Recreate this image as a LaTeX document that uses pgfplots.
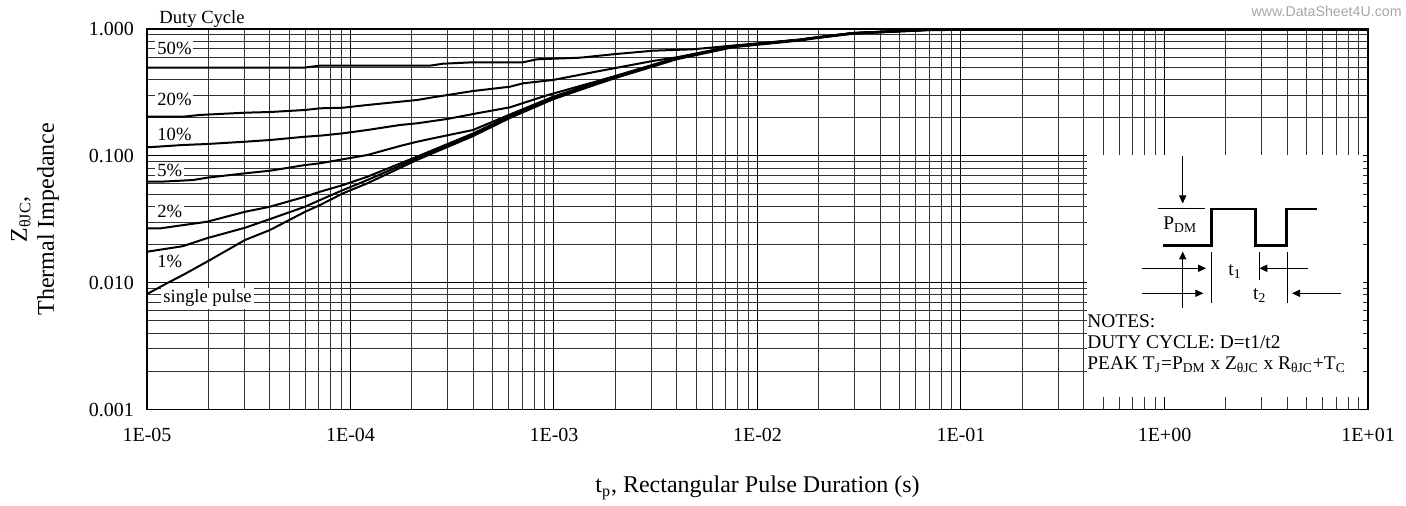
\documentclass[border=0pt]{standalone}
\usepackage{fontspec}
\setmainfont{Liberation Serif}
\newfontfamily\wmfont{Liberation Sans}
\usepackage{pgfplots}
\pgfplotsset{compat=1.18}
\usetikzlibrary{arrows.meta}
\pgfplotsset{curve/.style={black, solid, mark=none, line width=1pt, line join=round}}
\begin{document}
\begin{tikzpicture}
\begin{loglogaxis}[
  name=ax,
  scale only axis,
  width=610.5pt, height=190.25pt,
  xmin=1e-5, xmax=10, ymin=1e-3, ymax=1,
  xtick={1e-5,1e-4,1e-3,1e-2,1e-1,1,10},
  xticklabels={1E-05,1E-04,1E-03,1E-02,1E-01,1E+00,1E+01},
  ytick={1e-3,1e-2,1e-1,1},
  yticklabels={0.001,0.010,0.100,1.000},
  minor xtick={2e-5,3e-5,4e-5,5e-5,6e-5,7e-5,8e-5,9e-5,
    2e-4,3e-4,4e-4,5e-4,6e-4,7e-4,8e-4,9e-4,
    2e-3,3e-3,4e-3,5e-3,6e-3,7e-3,8e-3,9e-3,
    2e-2,3e-2,4e-2,5e-2,6e-2,7e-2,8e-2,9e-2,
    2e-1,3e-1,4e-1,5e-1,6e-1,7e-1,8e-1,9e-1,
    2,3,4,5,6,7,8,9},
  minor ytick={2e-3,3e-3,4e-3,5e-3,6e-3,7e-3,8e-3,9e-3,
    2e-2,3e-2,4e-2,5e-2,6e-2,7e-2,8e-2,9e-2,
    2e-1,3e-1,4e-1,5e-1,6e-1,7e-1,8e-1,9e-1},
  tick label style={font=\fontsize{10}{12}\selectfont},
  xticklabel style={yshift=-6pt},
  yticklabel style={xshift=-3pt},
  major tick length=0pt, minor tick length=0pt,
  grid=both,
  major grid style={black, line width=0.5pt},
  minor grid style={black!80, line width=0.5pt},
  axis line style={black, line width=0.6pt},
  xlabel={t\textsubscript{p}, Rectangular Pulse Duration (s)},
  xlabel style={at={(axis description cs:0.5,-0.2194)}, anchor=base, font=\fontsize{12}{14}\selectfont},
  ylabel={Z\textsubscript{θJC},\\Thermal Impedance},
  ylabel style={at={(axis description cs:-0.0917,0.5)}, anchor=center, align=center, font=\fontsize{12}{13.5}\selectfont},
]
% single pulse
\addplot[curve] table {
1e-5 0.00813
1.25e-5 0.00987
1.5e-5 0.01148
1.97e-5 0.01462
3.03e-5 0.02168
4.02e-5 0.0260
5.98e-5 0.0362
7.08e-5 0.0409
9.18e-5 0.0506
1.21e-4 0.0607
2.12e-4 0.0927
4.0e-4 0.143
6.08e-4 0.199
9.89e-4 0.279
1.68e-3 0.374
2.04e-3 0.414
4.02e-3 0.578
7.58e-3 0.718
1.62e-2 0.812
1.96e-2 0.848
2.95e-2 0.918
6.81e-2 0.978
1e-1 0.985
10 0.985
};
% 1%
\addplot[curve] table {
1e-5 0.01753
1.5e-5 0.0194
1.97e-5 0.0224
3.03e-5 0.0271
4.02e-5 0.0317
5.98e-5 0.0397
7.08e-5 0.0448
9.18e-5 0.0537
1.21e-4 0.0644
2.12e-4 0.0955
4.0e-4 0.147
6.08e-4 0.204
9.89e-4 0.284
1.68e-3 0.380
2.04e-3 0.420
4.02e-3 0.585
7.58e-3 0.724
1.62e-2 0.817
1.96e-2 0.852
2.95e-2 0.922
6.81e-2 0.981
1e-1 0.988
10 0.988
};
% 2%
\addplot[curve] table {
1e-5 0.0268
1.16e-5 0.0268
1.97e-5 0.0302
3.03e-5 0.0362
4.02e-5 0.0397
5.98e-5 0.0476
7.08e-5 0.0521
9.18e-5 0.0588
1.21e-4 0.0684
2.12e-4 0.0984
4.0e-4 0.150
6.08e-4 0.207
9.89e-4 0.288
1.68e-3 0.385
2.04e-3 0.424
4.02e-3 0.589
7.58e-3 0.727
1.62e-2 0.820
1.96e-2 0.855
2.95e-2 0.925
6.81e-2 0.984
1e-1 0.991
10 0.991
};
% 5%
\addplot[curve] table {
1e-5 0.0625
1.16e-5 0.0625
1.68e-5 0.0644
1.97e-5 0.0672
3.03e-5 0.0728
4.02e-5 0.0763
5.98e-5 0.0846
7.08e-5 0.0873
1.21e-4 0.1015
1.75e-4 0.1195
2.12e-4 0.1290
2.54e-4 0.1374
4.0e-4 0.1598
6.08e-4 0.212
9.89e-4 0.292
1.68e-3 0.389
2.04e-3 0.427
4.02e-3 0.592
7.58e-3 0.729
1.62e-2 0.822
1.96e-2 0.857
2.95e-2 0.927
6.81e-2 0.986
1e-1 0.993
10 0.993
};
% 10%
\addplot[curve] table {
1e-5 0.1167
1.12e-5 0.118
1.5e-5 0.1217
1.97e-5 0.1239
3.03e-5 0.1292
4.02e-5 0.1332
5.98e-5 0.1415
7.08e-5 0.1441
9.18e-5 0.1505
1.21e-4 0.1598
1.75e-4 0.1750
2.12e-4 0.1804
2.98e-4 0.1951
4.18e-4 0.2163
6.08e-4 0.2413
9.24e-4 0.300
1.68e-3 0.393
2.04e-3 0.430
4.02e-3 0.594
7.58e-3 0.731
1.62e-2 0.823
1.96e-2 0.858
2.95e-2 0.928
6.81e-2 0.987
1e-1 0.994
10 0.994
};
% 20%
\addplot[curve] table {
1e-5 0.2034
1.5e-5 0.2034
1.82e-5 0.210
3.03e-5 0.2188
4.02e-5 0.2215
5.98e-5 0.2298
7.08e-5 0.2369
9.18e-5 0.2395
1.21e-4 0.2516
1.75e-4 0.2671
2.12e-4 0.2754
2.54e-4 0.2892
4.0e-4 0.3243
6.08e-4 0.3507
7.04e-4 0.3730
9.89e-4 0.3962
1.68e-3 0.467
3.07e-3 0.560
4.02e-3 0.598
7.58e-3 0.733
1.62e-2 0.824
1.96e-2 0.859
2.95e-2 0.929
6.81e-2 0.988
1e-1 0.995
10 0.995
};
% 50%
\addplot[curve] table {
1e-5 0.495
5.85e-5 0.495
7.08e-5 0.514
2.46e-4 0.514
2.85e-4 0.5325
4.0e-4 0.5463
7.04e-4 0.5463
8.25e-4 0.5768
1.34e-3 0.5937
1.95e-3 0.6317
3.07e-3 0.6743
4.82e-3 0.6917
7.58e-3 0.740
1.62e-2 0.826
1.96e-2 0.860
2.95e-2 0.930
6.81e-2 0.989
1e-1 0.996
10 0.996
};
\end{loglogaxis}
\begin{scope}[x=0.5pt, y=-0.5pt, shift={(ax.south west)}, shift={(-147,-409.5)}]
  % curve labels
  \begin{scope}[every node/.style={font=\fontsize{9.3}{11}\selectfont, inner sep=1pt}]
    \node[anchor=base west] at (157,23.5) {Duty Cycle};
    \node[anchor=west, fill=white] at (155,48) {50\%};
    \node[anchor=west, fill=white] at (155,99.3) {20\%};
    \node[anchor=west, fill=white] at (155,134) {10\%};
    \node[anchor=west, fill=white] at (155,170) {5\%};
    \node[anchor=west, fill=white] at (155,211.7) {2\%};
    \node[anchor=west, fill=white] at (155,261.7) {1\%};
    \node[anchor=west, fill=white] at (161,298.3) {single pulse};
  \end{scope}
  % inset
  \fill[white] (1087,155) rectangle (1363,397);
  \draw[black, line width=0.5pt] (1158.3,209) -- (1205,209);
  \draw[black, line width=1.4pt, line join=miter] (1163,245.3) -- (1211.7,245.3) -- (1211.7,209) -- (1255.7,209) -- (1255.7,245.3) -- (1286.7,245.3) -- (1286.7,209) -- (1316.7,209);
  \begin{scope}[black, line width=0.5pt, -{Triangle[length=4pt,width=3.6pt]}]
    \draw (1182.7,156) -- (1182.7,203.5);
    \draw (1182.7,308.3) -- (1182.7,251.5);
    \draw (1141.7,268.3) -- (1206,268.3);
    \draw (1308.3,268.3) -- (1259.3,268.3);
    \draw (1141.7,293.3) -- (1203.3,293.3);
    \draw (1341,293.3) -- (1292,293.3);
  \end{scope}
  \draw[black, line width=0.5pt] (1211.7,252) -- (1211.7,303) (1259,252) -- (1259,280) (1287.3,252) -- (1287.3,303);
  \begin{scope}[every node/.style={font=\fontsize{9.7}{11}\selectfont, inner sep=0pt, anchor=base west}]
    \node at (1163,230) {P\textsubscript{DM}};
    \node at (1228,276) {t\textsubscript{1}};
    \node at (1252.7,300) {t\textsubscript{2}};
    \node at (1087,328) {NOTES:};
    \node at (1087,349) {DUTY CYCLE: D=t1/t2};
    \node at (1087,370) {PEAK T\textsubscript{J}=P\textsubscript{DM} x Z\textsubscript{θJC} x R\textsubscript{θJC}+T\textsubscript{C}};
  \end{scope}
  \node[anchor=base east, inner sep=0pt, font=\wmfont\fontsize{7.1}{8}\selectfont, text=black!35] at (1402,17) {www.DataSheet4U.com};
  \pgfresetboundingbox
  \path (0,0) rectangle (1406,506);
\end{scope}
\end{tikzpicture}
\end{document}
